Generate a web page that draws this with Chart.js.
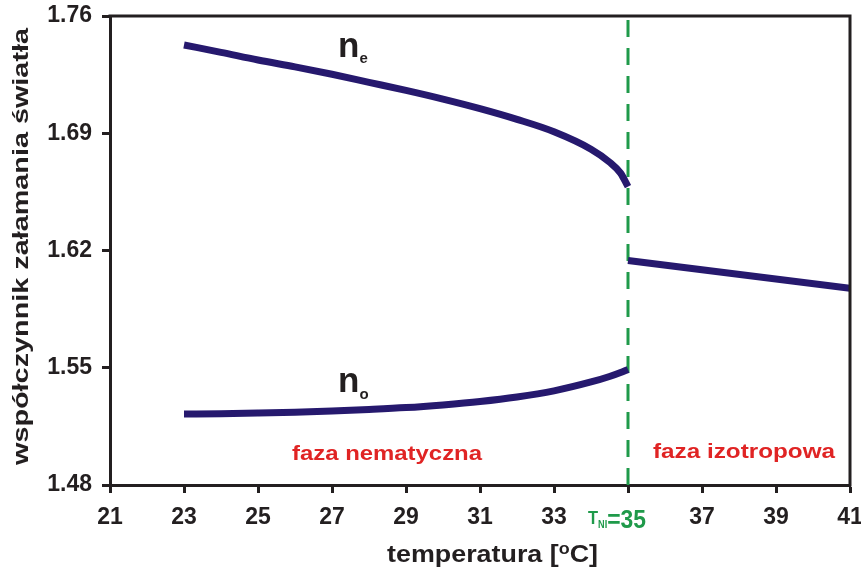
<!DOCTYPE html>
<html>
<head>
<meta charset="utf-8">
<script src="https://cdn.jsdelivr.net/npm/chart.js@4.4.1/dist/chart.umd.min.js"></script>
<style>
  html, body { margin: 0; padding: 0; background: #fff; }
  #wrap { width: 861px; height: 568px; }
</style>
</head>
<body>
<div id="wrap"><canvas id="chart"></canvas></div>
<script>
// nematic phase, 23..35 °C
const tempNematic = [23, 24, 25, 26, 27, 28, 29, 30, 31, 32, 33, 34, 34.5, 34.8, 35];
const nExtra = [1.7427, 1.7383, 1.7337, 1.7296, 1.7252, 1.7204, 1.7156, 1.7104, 1.7047, 1.6983, 1.6909, 1.6805, 1.6728, 1.6662, 1.6581];
const nOrdinary = [1.5224, 1.5226, 1.5230, 1.5235, 1.5242, 1.5251, 1.5262, 1.5278, 1.5298, 1.5325, 1.5362, 1.5415, 1.5448, 1.5472, 1.5490];
// isotropic phase
const tempIso = [35, 41];
const nIso = [1.6140, 1.5975];
const tNI = 35;

const xTicks = [21, 23, 25, 27, 29, 31, 33, 35, 37, 39, 41];
const yTicks = [1.48, 1.55, 1.62, 1.69, 1.76];

const INK = '#231f20';
const NAVY = '#26196e';
const GREEN = '#1f9a4a';
const RED = '#e02424';
const FONT = '"Liberation Sans", Arial, sans-serif';

const pts = (xs, ys) => xs.map((x, i) => ({ x: x, y: ys[i] }));

// draw a run of text pieces, stretched along the run to a given total width
function drawRun(ctx, parts, left, baseline, width, color, angle) {
  ctx.save();
  ctx.fillStyle = color;
  ctx.textBaseline = 'alphabetic';
  ctx.textAlign = 'left';
  let total = 0;
  parts.forEach(p => { ctx.font = p.font; p.w = ctx.measureText(p.text).width; total += p.w; });
  const sx = width ? width / total : 1;
  ctx.translate(left, baseline);
  if (angle) ctx.rotate(angle);
  ctx.scale(sx, 1);
  let x = 0;
  parts.forEach(p => {
    ctx.font = p.font;
    ctx.fillText(p.text, x, p.dy || 0);
    x += p.w;
  });
  ctx.restore();
}

const decorations = {
  id: 'decorations',
  afterDraw(chart) {
    const { ctx, chartArea: a, scales } = chart;
    // closing frame on top and right
    ctx.save();
    ctx.strokeStyle = INK;
    ctx.lineWidth = 3;
    ctx.beginPath();
    ctx.moveTo(a.left - 1.5, a.top);
    ctx.lineTo(a.right, a.top);
    ctx.lineTo(a.right, a.bottom + 1.5);
    ctx.stroke();
    ctx.restore();

    const b = 'bold';
    // curve names
    drawRun(ctx, [{ text: 'n', font: `${b} 35px ${FONT}` }, { text: 'e', font: `${b} 15px ${FONT}`, dy: 6 }], 338, 57, 0, INK);
    drawRun(ctx, [{ text: 'n', font: `${b} 35px ${FONT}` }, { text: 'o', font: `${b} 15px ${FONT}`, dy: 7 }], 338, 392, 0, INK);

    // phase names
    drawRun(ctx, [{ text: 'faza nematyczna', font: `${b} 20px ${FONT}` }], 292, 460, 190, RED);
    drawRun(ctx, [{ text: 'faza izotropowa', font: `${b} 20px ${FONT}` }], 653, 458, 182, RED);

    // transition temperature tick label
    const xp = scales.x.getPixelForValue(tNI);
    drawRun(ctx, [
      { text: 'T', font: `${b} 18px ${FONT}`, dy: -4 },
      { text: 'NI', font: `${b} 10px ${FONT}` },
      { text: '=35', font: `${b} 25px ${FONT}` }
    ], xp - 40, 528, 58, GREEN);

    // x axis title with superscript degree
    drawRun(ctx, [
      { text: 'temperatura [', font: `${b} 24px ${FONT}` },
      { text: 'o', font: `${b} 16px ${FONT}`, dy: -8 },
      { text: 'C]', font: `${b} 24px ${FONT}` }
    ], 387, 562, 211, INK);

    // y axis title, rotated
    drawRun(ctx, [{ text: 'współczynnik załamania światła', font: `${b} 22px ${FONT}` }],
      28, 465, 437, INK, -Math.PI / 2);
  }
};

new Chart(document.getElementById('chart'), {
  type: 'line',
  data: {
    datasets: [
      { data: pts(tempNematic, nExtra), borderColor: NAVY, borderWidth: 7, cubicInterpolationMode: 'monotone' },
      { data: pts(tempNematic, nOrdinary), borderColor: NAVY, borderWidth: 7, cubicInterpolationMode: 'monotone' },
      { data: pts(tempIso, nIso), borderColor: NAVY, borderWidth: 7 },
      { data: pts([tNI, tNI], [yTicks[0], yTicks[yTicks.length - 1]]), borderColor: GREEN, borderWidth: 3, borderDash: [17, 11] }
    ].map(d => Object.assign({ pointRadius: 0, fill: false, borderCapStyle: 'butt' }, d))
  },
  options: {
    responsive: true,
    maintainAspectRatio: false,
    animation: false,
    layout: { padding: { left: 0, right: 11, top: 16, bottom: 0 } },
    plugins: { legend: { display: false }, tooltip: { enabled: false } },
    scales: {
      x: {
        type: 'linear',
        min: 21, max: 41,
        afterBuildTicks: s => { s.ticks = xTicks.map(v => ({ value: v })); },
        afterFit: s => { s.height = 83; s.paddingLeft = 0; s.paddingRight = 0; },
        grid: { drawOnChartArea: false, tickLength: 8, tickWidth: 3, color: INK },
        border: { display: true, width: 3, color: INK },
        ticks: {
          color: INK, padding: 11, maxRotation: 0, autoSkip: false,
          font: { family: FONT, size: 23, weight: 'bold' },
          callback: v => (v === tNI ? '' : String(v))
        }
      },
      y: {
        min: 1.48, max: 1.76,
        afterBuildTicks: s => { s.ticks = yTicks.map(v => ({ value: v })); },
        afterFit: s => { s.width = 110; s.paddingTop = 0; s.paddingBottom = 0; },
        grid: { drawOnChartArea: false, tickLength: 8, tickWidth: 3, color: INK },
        border: { display: true, width: 3, color: INK },
        ticks: {
          color: INK, padding: 10, autoSkip: false,
          font: { family: FONT, size: 23, weight: 'bold' },
          callback: v => v.toFixed(2)
        }
      }
    }
  },
  plugins: [decorations]
});
</script>
</body>
</html>
